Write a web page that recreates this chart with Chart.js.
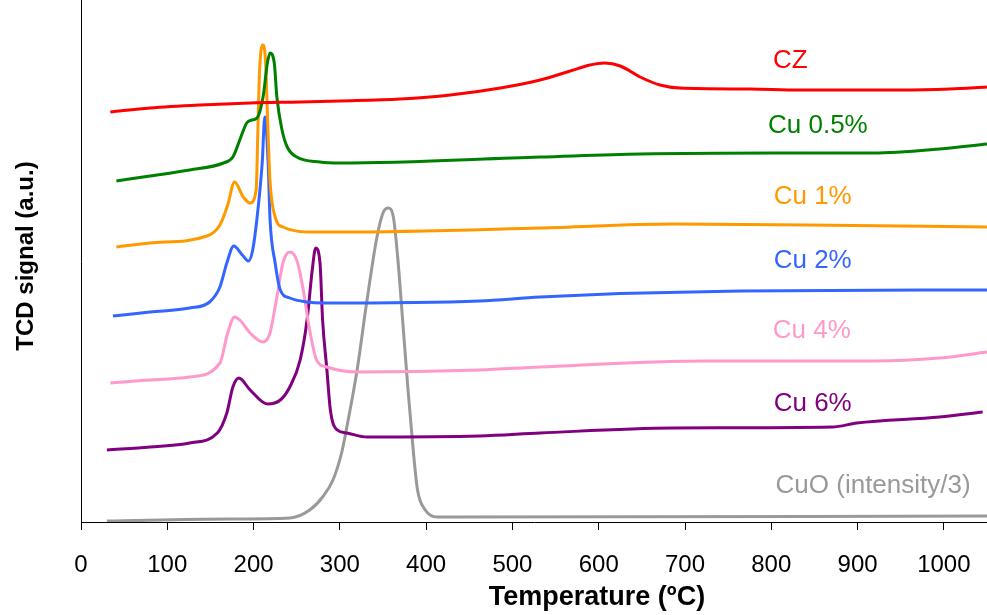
<!DOCTYPE html>
<html>
<head>
<meta charset="utf-8">
<script src="https://cdn.jsdelivr.net/npm/chart.js@4/dist/chart.umd.min.js"></script>
<style>
  html, body { margin: 0; padding: 0; background: #fff; }
  #grafico { display: block; }
</style>
</head>
<body>
<canvas id="grafico" width="987" height="615" style="width:987px;height:615px"></canvas>
<script>
// Datos (temperatura en ºC, señal TCD en u.a.)
const czT   = [34, 80, 138, 196, 254, 300, 370, 428, 486, 532, 567, 590, 607, 625, 648, 671, 694, 775, 833, 891, 949, 1007, 1050];
const czY   = [410, 414, 417, 419, 420, 421, 423, 427, 434, 442, 451, 457, 459, 456, 445, 437, 434, 433, 432, 432, 432, 433, 435];

const cu05T = [41, 80, 126, 165, 176, 184, 192, 198, 204, 211, 216, 219, 224, 227, 233, 239, 250, 277, 300, 532, 648, 802, 918, 995, 1050];
const cu05Y = [341, 346, 352, 359, 365, 382, 399, 402, 404, 425, 459, 469, 459, 425, 392, 375, 365, 360, 359, 365, 368, 369, 369, 373, 378];

const cu1T  = [41, 80, 146, 161, 170, 178, 188, 196, 203, 205, 207, 211, 214, 216, 219, 225, 234, 269, 300, 532, 686, 841, 1050];
const cu1Y  = [275, 279, 286, 297, 317, 340, 325, 319, 332, 392, 452, 477, 459, 409, 342, 305, 295, 290, 290, 294, 298, 297, 295];

const cu2T  = [37, 80, 126, 149, 161, 169, 177, 187, 194, 199, 204, 210, 213, 217, 219, 225, 231, 242, 262, 280, 462, 532, 764, 1050];
const cu2Y  = [206, 210, 214, 220, 235, 259, 276, 267, 261, 272, 304, 359, 405, 357, 304, 259, 232, 224, 220, 219, 221, 225, 231, 232];

const cu4T  = [34, 80, 126, 161, 170, 178, 184, 196, 211, 219, 227, 234, 242, 250, 257, 265, 273, 285, 320, 462, 532, 725, 918, 995, 1050];
const cu4Y  = [139, 142, 145, 159, 189, 205, 202, 189, 180, 189, 225, 259, 270, 262, 235, 192, 162, 155, 150, 152, 155, 161, 161, 164, 170];

const cu6T  = [30, 80, 126, 158, 169, 176, 183, 196, 216, 231, 242, 254, 262, 268, 272, 277, 280, 285, 289, 297, 308, 331, 462, 532, 686, 871, 899, 995, 1045];
const cu6Y  = [72, 75, 79, 89, 109, 135, 144, 132, 118, 122, 135, 162, 202, 252, 274, 259, 202, 152, 112, 92, 89, 85, 86, 89, 94, 95, 99, 105, 110];

const cuoT  = [30, 173, 242, 265, 280, 292, 302, 309, 320, 331, 343, 350, 356, 362, 367, 373, 379, 385, 390, 399, 413, 428, 1050];
const cuoY  = [1, 3, 4, 12, 25, 42, 69, 99, 152, 219, 285, 309, 314, 305, 265, 199, 132, 72, 32, 12, 5, 5, 6];

const nombres = ['CZ', 'Cu 0.5%', 'Cu 1%', 'Cu 2%', 'Cu 4%', 'Cu 6%', 'CuO (intensity/3)'];
const colores = ['#FF0000', '#008000', '#FF9900', '#3366FF', '#FF99CC', '#800080', '#999999'];
// posición de cada etiqueta en unidades del gráfico
const etiquetaT = [822, 854, 848, 848, 847, 848, 918];
const etiquetaY = [461, 396, 325, 261, 191, 118, 36];

const xTicks = { min: 0, max: 1050, paso: 100 };

function puntos(t, y) {
    return t.map((v, i) => ({ x: v, y: y[i] }));
}

const series = [
    puntos(czT, czY),
    puntos(cu05T, cu05Y),
    puntos(cu1T, cu1Y),
    puntos(cu2T, cu2Y),
    puntos(cu4T, cu4Y),
    puntos(cu6T, cu6Y),
    puntos(cuoT, cuoY)
];

const fuente = "'Liberation Sans', Arial, sans-serif";

// Etiquetas de las curvas y títulos de los ejes
const textosPlugin = {
    id: 'textos',
    afterDatasetsDraw(chart) {
        const ctx = chart.ctx;
        const sx = chart.scales.x;
        const sy = chart.scales.y;
        ctx.save();
        ctx.textAlign = 'center';
        ctx.textBaseline = 'middle';
        ctx.font = `26px ${fuente}`;
        nombres.forEach((n, i) => {
            ctx.fillStyle = colores[i];
            ctx.fillText(n, sx.getPixelForValue(etiquetaT[i]), sy.getPixelForValue(etiquetaY[i]));
        });

        ctx.fillStyle = '#000';
        ctx.font = `bold 27px ${fuente}`;
        ctx.fillText('Temperature (ºC)', 597, 598);

        ctx.translate(26, 256);
        ctx.rotate(-Math.PI / 2);
        ctx.font = `bold 24px ${fuente}`;
        ctx.fillText('TCD signal (a.u.)', 0, 0);
        ctx.restore();
    }
};

new Chart(document.getElementById('grafico'), {
    type: 'line',
    data: {
        datasets: series.map((d, i) => ({
            label: nombres[i],
            data: d,
            borderColor: colores[i],
            borderWidth: 3,
            pointRadius: 0,
            cubicInterpolationMode: 'monotone',
            fill: false
        }))
    },
    options: {
        responsive: false,
        maintainAspectRatio: false,
        animation: false,
        layout: { padding: 0 },
        plugins: {
            legend: { display: false },
            tooltip: { enabled: false }
        },
        scales: {
            x: {
                type: 'linear',
                min: xTicks.min,
                max: xTicks.max,
                ticks: {
                    stepSize: xTicks.paso,
                    includeBounds: false,
                    maxRotation: 0,
                    color: '#000',
                    padding: 21,
                    font: { family: fuente, size: 24 },
                    callback: (v) => String(v)
                },
                grid: {
                    drawOnChartArea: false,
                    drawTicks: true,
                    tickLength: 8,
                    color: '#000'
                },
                border: { color: '#000', width: 1 },
                afterFit(scale) {
                    scale.height = 93;
                    scale.paddingLeft = 0;
                    scale.paddingRight = 0;
                }
            },
            y: {
                min: 0,
                max: 522,
                ticks: { display: false },
                grid: { display: false },
                border: { display: true, color: '#000', width: 1 },
                afterFit(scale) { scale.width = 81; }
            }
        }
    },
    plugins: [textosPlugin]
});
</script>
</body>
</html>
